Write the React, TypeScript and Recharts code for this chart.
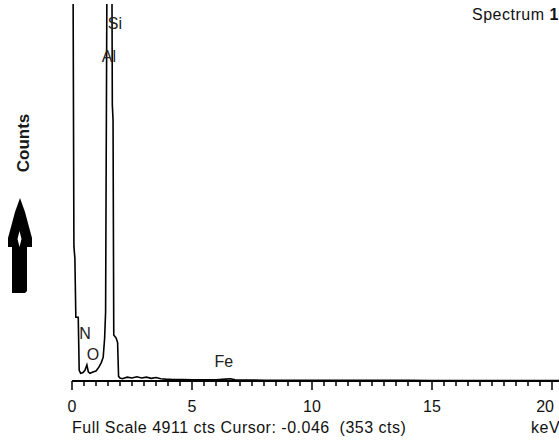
import { LineChart, Line, XAxis, YAxis, ReferenceDot } from 'recharts';

// EDS spectrum
const energyKeV = [
  0, 0.04, 0.08, 0.12, 0.16, 0.26, 0.3, 0.36, 0.46, 0.54,
  0.62, 0.68, 0.75, 0.9, 1.0, 1.12, 1.22, 1.3, 1.36, 1.4,
  1.46, 1.56, 1.66, 1.68, 1.71, 1.74, 1.84, 1.9, 1.94, 2.0,
  2.1, 2.3, 2.5, 2.7, 2.9, 3.1, 3.3, 3.5, 3.7, 3.9,
  4.2, 4.6, 5.0, 5.5, 6.0, 6.4, 6.6, 6.8, 7.2, 8.0,
  9, 10, 11, 12, 13, 14, 15, 16, 17, 18,
  19, 20, 20.5,
];
const counts = [
  5600, 5600, 1750, 1600, 830, 830, 140, 100, 110, 140,
  210, 120, 100, 120, 130, 180, 240, 310, 560, 900,
  5600, 5600, 5600, 3600, 3400, 600, 560, 500, 60, 40,
  30, 50, 40, 55, 40, 50, 35, 45, 30, 25,
  20, 20, 15, 15, 15, 25, 30, 15, 12, 10,
  10, 9, 9, 8, 8, 8, 7, 7, 7, 6,
  6, 6, 6,
];

// element labels (energy, label height in counts)
const peakNames = ['N', 'O', 'Al', 'Si', 'Fe'];
const peakKeV = [0.54, 0.875, 1.54, 1.79, 6.33];
const peakLabelCts = [625, 339, 4222, 4652, 248];

const majorTicks = [0, 5, 10, 15, 20];
const minorStep = 0.5;
const tickMarks = Array.from({ length: 41 }, (_, i) => i * minorStep);

const fullScale = 4911;
const cursorKeV = -0.046;
const cursorCts = 353;
const spectrumName = 'Spectrum';
const spectrumNo = 1;

const spectrum = energyKeV.map((e, i) => ({ keV: e, cts: counts[i] }));
const peaks = peakNames.map((n, i) => ({ name: n, keV: peakKeV[i], cts: peakLabelCts[i] }));

const FONT = '"Liberation Sans", Arial, sans-serif';
const X_DOMAIN: [number, number] = [0, 20.5];

function KevLabel(props: any) {
  const { x, y, payload } = props;
  const v = payload.value;
  const last = v === majorTicks[majorTicks.length - 1];
  return (
    <text
      x={last ? x + 2 : x}
      y={y + 31}
      textAnchor={last ? 'end' : 'middle'}
      fontSize={16}
      fill="#111"
      stroke="none"
      fontFamily={FONT}
    >
      {v}
    </text>
  );
}

export default function App() {
  return (
    <div
      style={{
        position: 'absolute',
        left: 0,
        top: 0,
        width: 559,
        height: 443,
        overflow: 'hidden',
        background: '#fff',
        fontFamily: FONT,
      }}
    >
      <LineChart
        width={574}
        height={443}
        data={spectrum}
        margin={{ top: 4, right: 10, bottom: 22, left: 72 }}
      >
        <XAxis
          xAxisId="kev"
          dataKey="keV"
          type="number"
          domain={X_DOMAIN}
          ticks={majorTicks}
          interval={0}
          tick={KevLabel}
          tickSize={0}
          tickMargin={0}
          tickLine={false}
          axisLine={{ stroke: '#000', strokeWidth: 2 }}
          height={40}
          allowDataOverflow
        />
        <XAxis
          xAxisId="frame"
          orientation="top"
          type="number"
          dataKey="keV"
          domain={X_DOMAIN}
          height={0}
          tick={false}
          tickLine={false}
          axisLine={{ stroke: '#000', strokeWidth: 1.5 }}
        />
        <YAxis
          type="number"
          domain={[0, fullScale]}
          allowDataOverflow
          width={0}
          tick={false}
          tickLine={false}
          axisLine={{ stroke: '#000', strokeWidth: 2 }}
        />
        <Line
          xAxisId="kev"
          dataKey="cts"
          type="linear"
          stroke="#000"
          strokeWidth={1.6}
          dot={false}
          isAnimationActive={false}
        />
        {/* tick marks hanging below the energy axis */}
        {tickMarks.map((v) => (
          <ReferenceDot
            key={`t${v}`}
            xAxisId="kev"
            x={v}
            y={0}
            ifOverflow="visible"
            shape={(s: any) => (
              <rect
                x={s.cx - 0.75}
                y={s.cy}
                width={1.5}
                height={majorTicks.includes(v) ? 9 : 5}
                fill="#000"
              />
            )}
          />
        ))}
        {peaks.map((p) => (
          <ReferenceDot
            key={p.name}
            xAxisId="kev"
            x={p.keV}
            y={p.cts}
            shape={(s: any) => (
              <text
                x={s.cx}
                y={s.cy}
                textAnchor="middle"
                dominantBaseline="central"
                fontSize={16}
                fill="#222"
                fontFamily={FONT}
              >
                {p.name}
              </text>
            )}
          />
        ))}
      </LineChart>

      <svg
        width={559}
        height={443}
        style={{ position: 'absolute', left: 0, top: 0, pointerEvents: 'none' }}
      >
        <text
          transform="translate(23,143) rotate(-90)"
          textAnchor="middle"
          dominantBaseline="central"
          fontSize={17}
          fontWeight="bold"
          fill="#1a1a1a"
          fontFamily={FONT}
        >
          Counts
        </text>
        <path
          d="M20,198 L25,212 L29,227 L32,238 L32,247 L27,247 L27,291 L25,293 L12,293 L12,247 L8,247 L8,238 L11,227 L15,212 Z"
          fill="#000"
        />
        <path d="M19.5,231 L21.5,239 L19.5,247 L17.5,239 Z" fill="#fff" />
      </svg>

      <div
        style={{
          position: 'absolute',
          left: 472,
          top: 7,
          fontSize: 16,
          lineHeight: '16px',
          letterSpacing: 0.5,
          color: '#111',
        }}
      >
        {spectrumName} <b>{spectrumNo}</b>
      </div>
      <div
        style={{
          position: 'absolute',
          left: 72,
          top: 420,
          fontSize: 16,
          lineHeight: '16px',
          letterSpacing: 0.5,
          color: '#111',
          whiteSpace: 'pre',
        }}
      >
        {`Full Scale ${fullScale} cts Cursor: ${cursorKeV.toFixed(3)}  (${cursorCts} cts)`}
      </div>
      <div
        style={{
          position: 'absolute',
          left: 531,
          top: 420,
          fontSize: 16,
          lineHeight: '16px',
          letterSpacing: 0.5,
          color: '#111',
        }}
      >
        keV
      </div>
    </div>
  );
}
